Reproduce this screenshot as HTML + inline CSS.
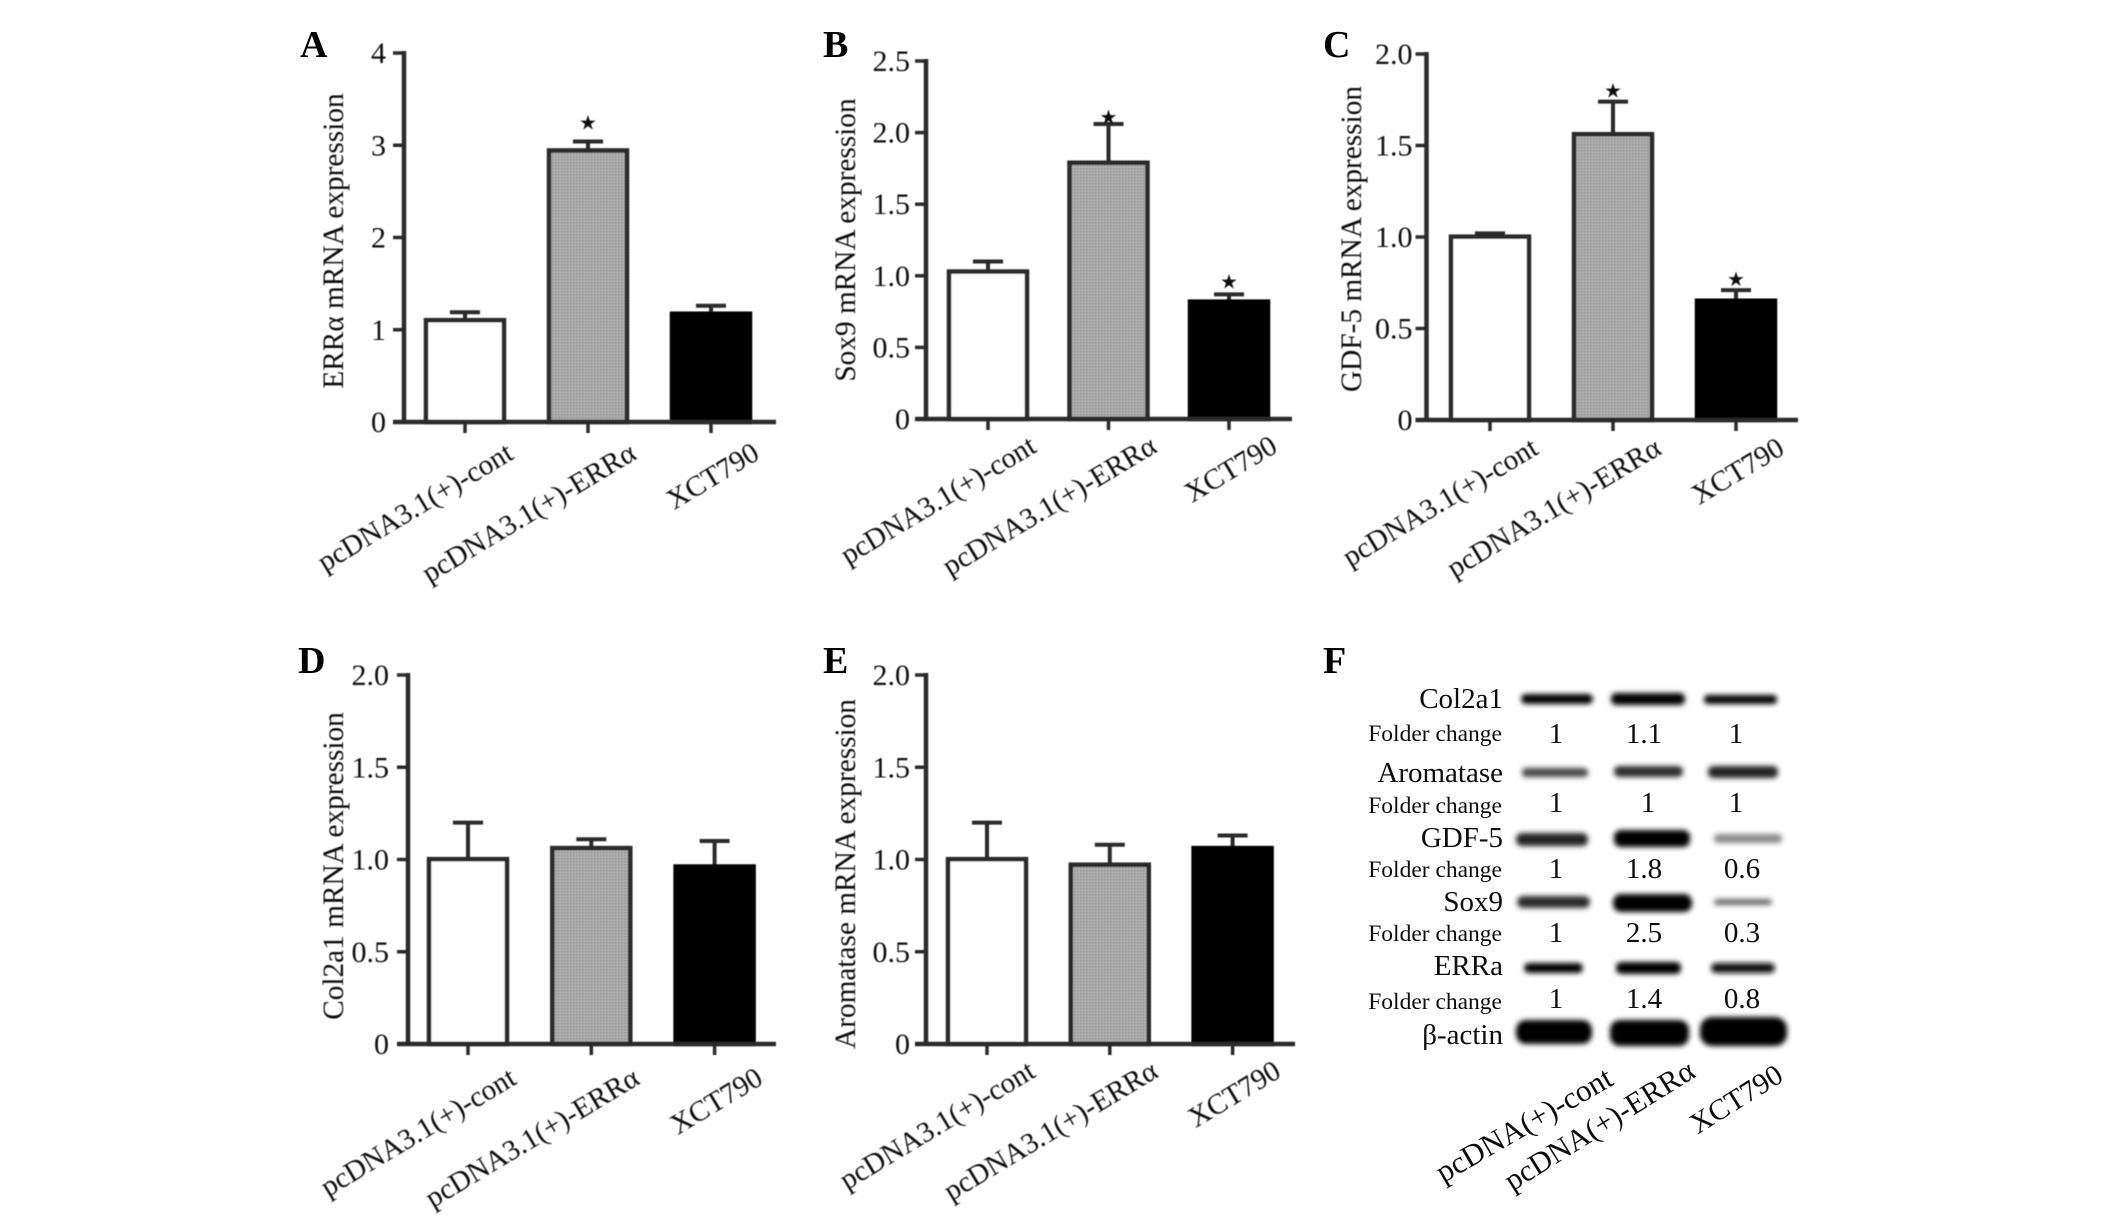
<!DOCTYPE html>
<html lang="en">
<head>
<meta charset="utf-8">
<title>ERRα expression panels</title>
<style>
html,body{margin:0;padding:0;background:#fff;width:2126px;height:1219px;overflow:hidden}
svg{display:block;font-family:"Liberation Serif",serif;fill:#0d0d0d}
.letter{font-size:38px;font-weight:bold;fill:#000}
.blot-label{font-size:29px;text-anchor:end}
.fold-label{font-size:23.5px;text-anchor:end}
.fold-value{font-size:29px;text-anchor:middle}
</style>
</head>
<body>
<svg id="figure" xmlns="http://www.w3.org/2000/svg" width="2126" height="1219" viewBox="0 0 2126 1219">
<defs>
<pattern id="dots" width="3" height="3" patternUnits="userSpaceOnUse">
<rect width="3" height="3" fill="#b0b0b0"/><rect width="1.5" height="1.5" fill="#8c8c8c"/>
</pattern>
<filter id="soft" x="-5%" y="-5%" width="110%" height="110%"><feGaussianBlur stdDeviation="0.6"/></filter>
<filter id="band" x="-20%" y="-100%" width="140%" height="300%"><feGaussianBlur stdDeviation="2.6"/></filter>
</defs>
<g id="charts" filter="url(#soft)"></g>
<text class="letter" x="300" y="57">A</text>
<text class="letter" x="823" y="57">B</text>
<text class="letter" x="1323" y="57">C</text>
<text class="letter" x="298" y="673">D</text>
<text class="letter" x="823" y="673">E</text>
<text class="letter" x="1323" y="673">F</text>
<g>
<g filter="url(#band)" fill="#000">
<rect x="1521" y="694" width="72" height="10" rx="5"/>
<rect x="1611" y="693" width="74" height="12" rx="5"/>
<rect x="1704" y="695" width="73" height="9" rx="4"/>
<rect x="1522" y="768" width="66" height="9" rx="4" fill="#444"/>
<rect x="1614" y="766" width="69" height="11" rx="5" fill="#2c2c2c"/>
<rect x="1708" y="766" width="70" height="12" rx="5" fill="#222"/>
<rect x="1516" y="833" width="72" height="13" rx="6" fill="#222"/>
<rect x="1614" y="830" width="76" height="17" rx="7"/>
<rect x="1714" y="834" width="68" height="9" rx="4" fill="#888"/>
<rect x="1517" y="896" width="73" height="12" rx="6" fill="#2a2a2a"/>
<rect x="1613" y="894" width="79" height="18" rx="8"/>
<rect x="1714" y="899" width="58" height="6" rx="3" fill="#666"/>
<rect x="1524" y="963" width="59" height="10" rx="5"/>
<rect x="1616" y="962" width="65" height="12" rx="5"/>
<rect x="1711" y="963" width="64" height="10" rx="5" fill="#111"/>
<rect x="1516" y="1020" width="76" height="24" rx="10"/>
<rect x="1610" y="1020" width="79" height="26" rx="10"/>
<rect x="1700" y="1017" width="87" height="29" rx="12"/>
</g>
<text class="blot-label" x="1503" y="708">Col2a1</text>
<text class="fold-label" x="1502" y="741">Folder change</text>
<text class="fold-value" x="1556" y="743">1</text>
<text class="fold-value" x="1644" y="743">1.1</text>
<text class="fold-value" x="1736" y="743">1</text>
<text class="blot-label" x="1503" y="782">Aromatase</text>
<text class="fold-label" x="1502" y="813">Folder change</text>
<text class="fold-value" x="1556" y="812">1</text>
<text class="fold-value" x="1648" y="812">1</text>
<text class="fold-value" x="1736" y="812">1</text>
<text class="blot-label" x="1503" y="847">GDF-5</text>
<text class="fold-label" x="1502" y="877">Folder change</text>
<text class="fold-value" x="1556" y="878">1</text>
<text class="fold-value" x="1644" y="878">1.8</text>
<text class="fold-value" x="1742" y="878">0.6</text>
<text class="blot-label" x="1503" y="911">Sox9</text>
<text class="fold-label" x="1502" y="941">Folder change</text>
<text class="fold-value" x="1556" y="942">1</text>
<text class="fold-value" x="1644" y="942">2.5</text>
<text class="fold-value" x="1742" y="942">0.3</text>
<text class="blot-label" x="1503" y="975">ERRa</text>
<text class="fold-label" x="1502" y="1009">Folder change</text>
<text class="fold-value" x="1556" y="1008">1</text>
<text class="fold-value" x="1644" y="1008">1.4</text>
<text class="fold-value" x="1742" y="1008">0.8</text>
<text class="blot-label" x="1503" y="1044" font-family="Liberation Serif, DejaVu Serif, serif">β-actin</text>
<text font-size="31" text-anchor="end" transform="translate(1615 1084) rotate(-30)">pcDNA(+)-cont</text>
<text font-size="30.5" text-anchor="end" transform="translate(1697 1076) rotate(-32)">pcDNA(+)-ERRα</text>
<text font-size="29.5" text-anchor="end" transform="translate(1785 1080) rotate(-32)">XCT790</text>
</g>
</svg>
<script>
const categoriesTop = ['pcDNA3.1(+)-cont', 'pcDNA3.1(+)-ERRα', 'XCT790'];

const ticksA = [0, 1, 2, 3, 4];
const tickLabelsA = ['0', '1', '2', '3', '4'];
const valuesA = [1.12, 2.96, 1.19];
const errorTopsA = [1.19, 3.04, 1.26];
const starsA = [false, true, false];

const ticksB = [0, 0.5, 1, 1.5, 2, 2.5];
const tickLabelsB = ['0', '0.5', '1.0', '1.5', '2.0', '2.5'];
const valuesB = [1.04, 1.80, 0.83];
const errorTopsB = [1.10, 2.06, 0.87];
const starsB = [false, true, true];

const ticksC = [0, 0.5, 1, 1.5, 2];
const tickLabelsC = ['0', '0.5', '1.0', '1.5', '2.0'];
const valuesC = [1.01, 1.57, 0.66];
const errorTopsC = [1.02, 1.74, 0.71];
const starsC = [false, true, true];

const ticksD = [0, 0.5, 1, 1.5, 2];
const tickLabelsD = ['0', '0.5', '1.0', '1.5', '2.0'];
const valuesD = [1.01, 1.07, 0.97];
const errorTopsD = [1.20, 1.11, 1.10];
const starsD = [false, false, false];

const ticksE = [0, 0.5, 1, 1.5, 2];
const tickLabelsE = ['0', '0.5', '1.0', '1.5', '2.0'];
const valuesE = [1.01, 0.98, 1.07];
const errorTopsE = [1.20, 1.08, 1.13];
const starsE = [false, false, false];

const panels = [
  {id:'a', title:'ERRα mRNA expression', ticks:ticksA, labels:tickLabelsA, values:valuesA, tops:errorTopsA, stars:starsA,
   axisX:404, top:53, bottom:422, right:776, bar0:465, step:123, titleX:343, titleY:241, tickGap:18, catDy:36, starLift:[0,12,0]},
  {id:'b', title:'Sox9 mRNA expression', ticks:ticksB, labels:tickLabelsB, values:valuesB, tops:errorTopsB, stars:starsB,
   axisX:926, top:61, bottom:419, right:1292, bar0:988, step:120.5, titleX:855, titleY:240, tickGap:16, catDy:32, starLift:[0,0,6]},
  {id:'c', title:'GDF-5 mRNA expression', ticks:ticksC, labels:tickLabelsC, values:valuesC, tops:errorTopsC, stars:starsC,
   axisX:1426.5, top:54, bottom:420, right:1798, bar0:1490, step:123, titleX:1361, titleY:239, tickGap:14, catDy:33, starLift:[0,4,4]},
  {id:'d', title:'Col2a1 mRNA expression', ticks:ticksD, labels:tickLabelsD, values:valuesD, tops:errorTopsD, stars:starsD,
   axisX:408, top:675, bottom:1044, right:776, bar0:468, step:123.3, titleX:343, titleY:866, tickGap:19, catDy:39, starLift:[0,0,0]},
  {id:'e', title:'Aromatase mRNA expression', ticks:ticksE, labels:tickLabelsE, values:valuesE, tops:errorTopsE, stars:starsE,
   axisX:926, top:675, bottom:1044, right:1295, bar0:987, step:122.8, titleX:855, titleY:874, tickGap:16, catDy:32, starLift:[0,0,0]}
];

const SVGNS = 'http://www.w3.org/2000/svg';
const chartsRoot = document.getElementById('charts');

function make(parent, tag, attrs, text) {
  const el = document.createElementNS(SVGNS, tag);
  for (const k in attrs) el.setAttribute(k, attrs[k]);
  if (text !== undefined) el.textContent = text;
  parent.appendChild(el);
  return el;
}

function drawPanel(p) {
  const maxV = p.ticks[p.ticks.length - 1];
  const yScale = v => p.bottom - (v / maxV) * (p.bottom - p.top);
  const xScale = i => p.bar0 + i * p.step;
  const barW = 78;
  const strokeInset = 1.5;
  const line = '#2b2b2b';

  const g = make(chartsRoot, 'g', {});
  
  

  const title = make(g, 'text', {'font-size':29.3, 'text-anchor':'middle',
    transform:'translate(' + p.titleX + ' ' + p.titleY + ') rotate(-90)'}, p.title);
  
  

  p.values.forEach((v, i) => {
    const cx = xScale(i);
    const barTop = yScale(v) + strokeInset;
    const errLine = make(g, 'line', {x1:cx, x2:cx, y1:barTop, y2:yScale(p.tops[i]), stroke:line, 'stroke-width':4});
    
    
    const cap = make(g, 'line', {x1:cx - 15, x2:cx + 15, y1:yScale(p.tops[i]), y2:yScale(p.tops[i]), stroke:line, 'stroke-width':4});
    
    
    const fill = i === 0 ? '#fff' : i === 1 ? 'url(#dots)' : '#000';
    const bar = make(g, 'rect', {x:cx - barW / 2, y:barTop, width:barW, height:p.bottom - barTop,
      fill:fill, stroke:i === 2 ? '#000' : line, 'stroke-width':4.5});
    
    
    if (p.stars[i]) {
      const star = make(g, 'text', {x:cx, y:yScale(p.tops[i]) - p.starLift[i], 'text-anchor':'middle', 'font-size':20,
        'font-family':'DejaVu Sans, sans-serif', fill:'#111'}, '★');
      
      
    }
    const xTick = make(g, 'line', {x1:cx, x2:cx, y1:p.bottom, y2:p.bottom + 11, stroke:line, 'stroke-width':3.5});
    
    
    const cat = make(g, 'text', {'font-size':29, 'text-anchor':'end',
      transform:'translate(' + (cx + 50) + ' ' + (p.bottom + p.catDy) + ') rotate(-31)'}, categoriesTop[i]);
    
    
  });

  const yAxis = make(g, 'line', {x1:p.axisX, x2:p.axisX, y1:p.top - 2, y2:p.bottom + 2, stroke:line, 'stroke-width':4.5});
  
  
  const xAxis = make(g, 'line', {x1:p.axisX - 11, x2:p.right, y1:p.bottom, y2:p.bottom, stroke:line, 'stroke-width':4.5});
  
  

  p.ticks.forEach((t, i) => {
    const y = yScale(t);
    const tick = make(g, 'line', {x1:p.axisX - 11, x2:p.axisX, y1:y, y2:y, stroke:line, 'stroke-width':3.5});
    
    
    const label = make(g, 'text', {x:p.axisX - p.tickGap, y:y + 10, 'font-size':30, 'text-anchor':'end'}, p.labels[i]);
    
    
  });
}

panels.forEach(drawPanel);
</script>
</body>
</html>
